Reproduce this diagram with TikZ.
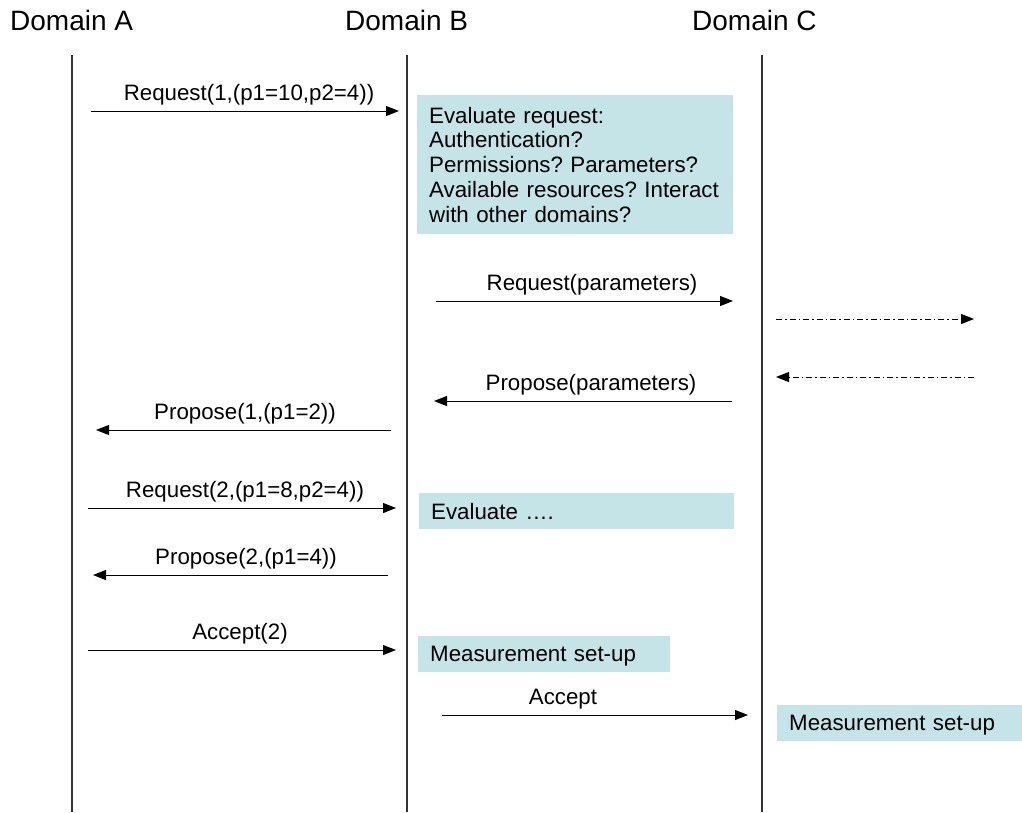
\documentclass[tikz,border=0pt]{standalone}
\usepackage{fontspec}
\setmainfont{Liberation Sans}
\usetikzlibrary{arrows.meta}
\definecolor{panelfill}{HTML}{C5E4E8}
\frenchspacing

\begin{document}
\begin{tikzpicture}[x=1pt,y=-1pt,
  lifeline/.style={draw=black!80, line width=1.3pt},
  msg/.style={draw=black, line width=1pt, -{Triangle[length=13pt,width=10pt]}},
  fwd/.style={msg, dash pattern=on 6pt off 3pt on 1.5pt off 3pt},
  title/.style={font=\fontsize{28}{32}\selectfont, anchor=base west, inner sep=0pt},
  lbl/.style={font=\fontsize{22.3}{24.7}\selectfont, anchor=base, inner sep=0pt},
  panel/.style={fill=panelfill, anchor=north west, align=left, inner xsep=12pt,
                inner ysep=0pt, font=\fontsize{22.3}{24.7}\selectfont},
  bar/.style={panel, minimum height=36pt, text depth=0pt},
]
\useasboundingbox (0,0) rectangle (1022,812);

% domain headings
\node[title] (tA) at (10,30)  {Domain A};
\node[title] (tB) at (345,30) {Domain B};
\node[title] (tC) at (692,30) {Domain C};

% lifelines
\coordinate (A0) at (72,55);  \coordinate (A1) at (72,812);
\coordinate (B0) at (407,55); \coordinate (B1) at (407,812);
\coordinate (C0) at (762,55); \coordinate (C1) at (762,812);
\draw[lifeline] (A0) -- (A1);
\draw[lifeline] (B0) -- (B1);
\draw[lifeline] (C0) -- (C1);

% evaluation / set-up panels
\node[panel, text width=292pt, minimum height=139pt] (p1) at (417,95)
  {Evaluate request:\\Authentication?\\Permissions? Parameters?\\Available resources? Interact\\with other domains?};
\node[bar, text width=291pt] (p2) at (419,493) {Evaluate ….};
\node[bar, text width=228pt] (p3) at (418,636) {Measurement set-up};
\node[bar, text width=221pt] (p4) at (777,705) {Measurement set-up};

% message end points
\coordinate (m1s) at (91,111);  \coordinate (m1e) at (399,111);
\coordinate (m2s) at (436,301); \coordinate (m2e) at (733,301);
\coordinate (f1s) at (776,319); \coordinate (f1e) at (974,319);
\coordinate (f2s) at (974,377); \coordinate (f2e) at (776,377);
\coordinate (m3s) at (732,401); \coordinate (m3e) at (434,401);
\coordinate (m4s) at (391,430); \coordinate (m4e) at (96,430);
\coordinate (m5s) at (88,508);  \coordinate (m5e) at (396,508);
\coordinate (m6s) at (388,575); \coordinate (m6e) at (93,575);
\coordinate (m7s) at (88,650);  \coordinate (m7e) at (396,650);
\coordinate (m8s) at (442,715); \coordinate (m8e) at (748,715);

% messages
\draw[msg] (m1s) -- (m1e);
\draw[msg] (m2s) -- (m2e);
\draw[fwd] (f1s) -- (f1e);
\draw[fwd] (f2s) -- (f2e);
\draw[msg] (m3s) -- (m3e);
\draw[msg] (m4s) -- (m4e);
\draw[msg] (m5s) -- (m5e);
\draw[msg] (m6s) -- (m6e);
\draw[msg] (m7s) -- (m7e);
\draw[msg] (m8s) -- (m8e);

% message labels
\node[lbl] (l1) at (249,100) {Request(1,(p1=10,p2=4))};
\node[lbl] (l2) at (592,290) {Request(parameters)};
\node[lbl] (l3) at (591,390) {Propose(parameters)};
\node[lbl] (l4) at (245,419) {Propose(1,(p1=2))};
\node[lbl] (l5) at (245,497) {Request(2,(p1=8,p2=4))};
\node[lbl] (l6) at (246,564) {Propose(2,(p1=4))};
\node[lbl] (l7) at (240,639) {Accept(2)};
\node[lbl] (l8) at (563,704) {Accept};
\end{tikzpicture}
\end{document}
